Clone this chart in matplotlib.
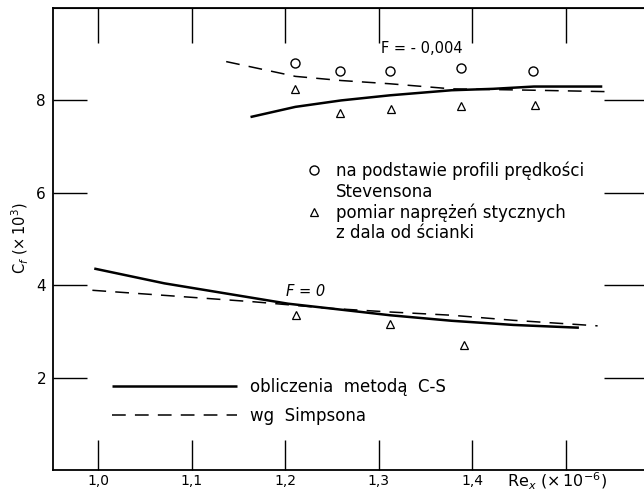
import matplotlib
matplotlib.use("Agg")
import matplotlib.pyplot as plt
from matplotlib.lines import Line2D

plt.rcParams['font.family'] = ['DejaVu Sans']

# F = -0.004 : measured points
re_stev = [1.211, 1.259, 1.312, 1.388, 1.465]
cf_stev = [8.81, 8.63, 8.63, 8.70, 8.63]
re_tau_up = [1.211, 1.259, 1.313, 1.388, 1.467]
cf_tau_up = [8.25, 7.73, 7.82, 7.87, 7.89]

# F = 0 : measured points
re_tau_lo = [1.212, 1.312, 1.391]
cf_tau_lo = [3.35, 3.17, 2.70]

# C-S calculation, F = -0.004
re_cs_up = [1.163, 1.211, 1.260, 1.312, 1.378, 1.422, 1.466, 1.539]
cf_cs_up = [7.64, 7.86, 8.00, 8.11, 8.22, 8.25, 8.30, 8.30]
# Simpson, F = -0.004
re_sim_up = [1.137, 1.211, 1.260, 1.312, 1.378, 1.466, 1.543]
cf_sim_up = [8.84, 8.52, 8.43, 8.36, 8.25, 8.22, 8.19]

# C-S calculation, F = 0
re_cs_lo = [0.996, 1.071, 1.137, 1.203, 1.247, 1.312, 1.378, 1.444, 1.514]
cf_cs_lo = [4.36, 4.04, 3.82, 3.60, 3.50, 3.35, 3.23, 3.14, 3.08]
# Simpson, F = 0
re_sim_lo = [0.994, 1.071, 1.167, 1.247, 1.312, 1.378, 1.444, 1.534]
cf_sim_lo = [3.89, 3.78, 3.64, 3.50, 3.42, 3.35, 3.24, 3.12]

x_ticks = [1.0, 1.1, 1.2, 1.3, 1.4, 1.5]
x_labels = ["1,0", "1,1", "1,2", "1,3", "1,4", ""]
y_ticks = [2, 4, 6, 8]
y_labels = ["2", "4", "6", "8"]

fig = plt.figure(figsize=(6.44, 4.92), dpi=100)
ax = fig.add_axes([53 / 644, 22 / 492, 597 / 644, 462 / 492])
ax.set_xlim(0.9519, 1.590)
ax.set_ylim(0, 10)

solid = dict(color="black", lw=1.8, solid_capstyle="butt")
dashed = dict(color="black", lw=1.1, dashes=(9, 6))
ax.plot(re_cs_up, cf_cs_up, **solid)
ax.plot(re_sim_up, cf_sim_up, **dashed)
ax.plot(re_cs_lo, cf_cs_lo, **solid)
ax.plot(re_sim_lo, cf_sim_lo, **dashed)

circ = dict(ls="none", marker="o", ms=6.5, mfc="white", mec="black", mew=1.0)
tri = dict(ls="none", marker="^", ms=5.5, mfc="white", mec="black", mew=0.9)
ax.plot(re_stev, cf_stev, **circ)
ax.plot(re_tau_up, cf_tau_up, **tri)
ax.plot(re_tau_lo, cf_tau_lo, **tri)

ax.text(1.3465, 9.12, "F = - 0,004", ha="center", va="center", fontsize=10.5)
ax.text(1.2214, 3.87, "F = 0", ha="center", va="center", fontsize=10.5,
        style="italic")

# marker legend
blank = Line2D([], [], ls="none")
h_m = [Line2D([], [], **circ), blank, Line2D([], [], **tri), blank]
l_m = ["na podstawie profili prędkości", "Stevensona",
       "pomiar naprężeń stycznych", "z dala od ścianki"]
leg1 = ax.legend(h_m, l_m, frameon=False, fontsize=12, loc="upper left",
                 bbox_to_anchor=(0.4233, 0.6675), handlelength=1.0,
                 handletextpad=0.8, labelspacing=0.15, borderpad=0,
                 borderaxespad=0)
ax.add_artist(leg1)

# line legend
h_l = [Line2D([], [], **solid), Line2D([], [], **dashed)]
l_l = ["obliczenia  metodą  C-S", "wg  Simpsona"]
ax.legend(h_l, l_l, frameon=False, fontsize=12, loc="upper left",
          bbox_to_anchor=(0.098, 0.200), handlelength=7.55,
          handletextpad=0.78, labelspacing=0.67, borderpad=0,
          borderaxespad=0)

for s in ["left", "top", "bottom"]:
    ax.spines[s].set_linewidth(1.3)
ax.spines["right"].set_visible(False)

ax.set_xticks(x_ticks)
ax.set_xticklabels(x_labels)
ax.set_yticks(y_ticks)
ax.set_yticklabels(y_labels)
ax.tick_params(axis="x", direction="in", length=21.5, width=1.0,
               labelsize=10, pad=3)
ax.tick_params(axis="y", direction="in", length=24.5, width=1.0,
               labelsize=11, pad=5)

top = ax.secondary_xaxis("top")
top.set_xticks(x_ticks)
top.tick_params(direction="in", length=25, width=1.0, labeltop=False)
right = ax.secondary_yaxis("right")
right.set_yticks(y_ticks)
right.tick_params(direction="in", length=33, width=1.0, labelright=False)
right.spines["right"].set_visible(False)

fig.text(20 / 644, 1 - 238 / 492, r"C$_f$ ($\times\,10^3$)", rotation=90,
         ha="center", va="center", fontsize=10.5)
fig.text(507 / 644, 1 - 481 / 492, r"Re$_x$ ($\times\,10^{-6}$)",
         ha="left", va="center", fontsize=11.5)

fig.savefig("out.png", dpi=100)
